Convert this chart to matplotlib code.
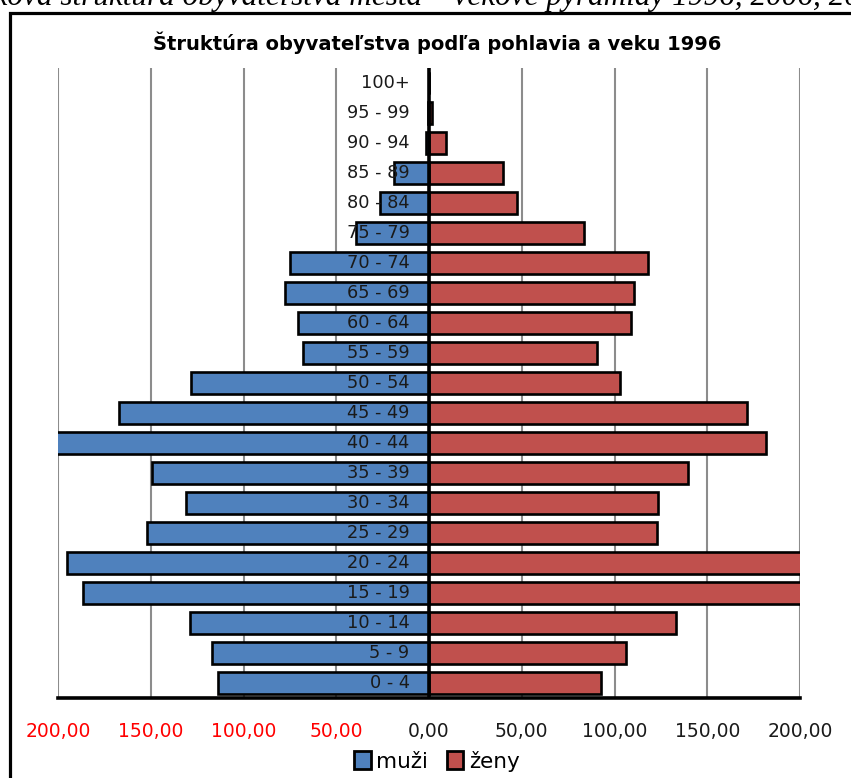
import numpy as np
import matplotlib.pyplot as plt
from matplotlib.patches import Rectangle

# vekove skupiny a hodnoty (odcitane z grafu)
ages = ['0 - 4', '5 - 9', '10 - 14', '15 - 19', '20 - 24', '25 - 29', '30 - 34',
        '35 - 39', '40 - 44', '45 - 49', '50 - 54', '55 - 59', '60 - 64', '65 - 69',
        '70 - 74', '75 - 79', '80 - 84', '85 - 89', '90 - 94', '95 - 99', '100+']
muzi = [114.0, 116.8, 128.7, 186.7, 195.1, 152.2, 131.0, 149.1, 210.0, 167.1, 128.2,
        68.0, 70.8, 77.7, 75.1, 39.3, 26.3, 18.6, 1.4, 0.4, 0.0]
zeny = [92.9, 106.4, 132.9, 215.0, 220.0, 123.1, 123.2, 139.4, 181.5, 171.2, 103.2,
        90.3, 109.0, 110.3, 117.9, 83.6, 47.6, 40.0, 9.4, 1.6, 0.0]

xticks = [-200, -150, -100, -50, 0, 50, 100, 150, 200]
xlabels = ['200,00', '150,00', '100,00', '50,00', '0,00', '50,00', '100,00', '150,00', '200,00']

title = 'Štruktúra obyvateľstva podľa pohlavia a veku 1996'
caption = 'Veková štruktúra obyvateľstva mesta – vekové pyramídy 1996, 2006, 2011'

blue = '#4F81BD'
red = '#C0504D'

W, H = 851, 778
fig = plt.figure(figsize=(W/100, H/100), dpi=100)

# okraj grafu a orezany popis nad nim (v predlohe je tiez orezany)
fig.patches.append(Rectangle((10/W, -0.05), 1.0, 1 - 13/H + 0.05, transform=fig.transFigure,
                             fill=False, edgecolor='black', linewidth=2.3))
fig.text(-36/W, 1 - 5/H, caption, family='Liberation Serif', style='italic',
         fontsize=22.5, ha='left', va='baseline')

ax = fig.add_axes([58/W, 1 - 698/H, 742/W, 630/H])

y = np.arange(len(ages))
ax.barh(y, -np.array(muzi), height=0.76, color=blue, edgecolor='black', linewidth=1.9,
        label='muži', zorder=2)
ax.barh(y, zeny, height=0.76, color=red, edgecolor='black', linewidth=1.9,
        label='ženy', zorder=2)
ax.axvline(0, color='black', linewidth=2.6, zorder=4)

for i, a in enumerate(ages):
    ax.text(-10.5, i, a, ha='right', va='center', fontsize=12.8, color='#1a1a1a', zorder=5)

ax.set_xlim(-200, 200)
ax.set_ylim(-0.5, len(ages) - 0.5)
ax.set_xticks(xticks)
ax.set_xticklabels(xlabels, fontsize=13.5)
for t, v in zip(ax.get_xticklabels(), xticks):
    t.set_color('#FF0000' if v < 0 else '#1a1a1a')
ax.tick_params(axis='x', length=0, pad=17)
ax.set_yticks([])
ax.grid(axis='x', color='#8c8c8c', linewidth=1.5, zorder=0)
ax.set_axisbelow(True)
for s in ['left', 'right', 'top']:
    ax.spines[s].set_visible(False)
ax.spines['bottom'].set_linewidth(2.6)

fig.text(437/W, 1 - 43/H, title, ha='center', va='center', fontsize=14, fontweight='bold')

leg = fig.legend(loc='center', bbox_to_anchor=(437/W, 1 - 761/H), ncol=2, frameon=False,
                 fontsize=15.5, handlelength=0.75, handleheight=0.85, handletextpad=0.25,
                 columnspacing=0.9)
for h in leg.legend_handles:
    h.set_linewidth(2)

fig.savefig('out.png', dpi=100)
